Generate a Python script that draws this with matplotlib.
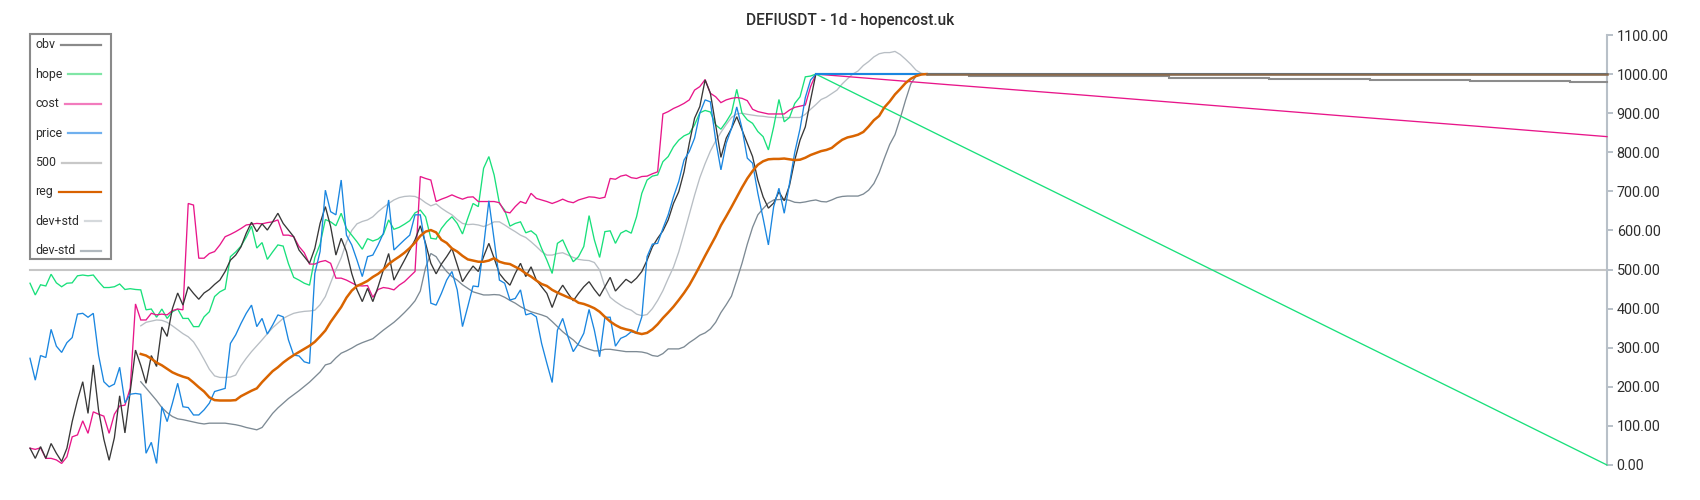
import matplotlib
matplotlib.use("Agg")
import matplotlib.pyplot as plt
from matplotlib.lines import Line2D
from matplotlib.patches import Rectangle
import numpy as np

plt.rcParams['font.family'] = ['Roboto', 'DejaVu Sans']

TITLE = "DEFIUSDT - 1d - hopencost.uk"

# ---------------- data ----------------
hist_days = list(range(150))          # days 0..149 (history)
band_days = list(range(21, 171))      # days 21..170 (regression / bands)

price = [273, 217, 280, 275, 347, 304, 288, 313, 326, 386,
         388, 378, 388, 281, 213, 200, 207, 250, 159, 181,
         183, 181, 30, 58, 4, 149, 111, 158, 209, 149,
         147, 128, 128, 141, 158, 188, 192, 196, 311, 333,
         362, 388, 409, 354, 375, 335, 358, 384, 379, 320,
         281, 279, 264, 260, 490, 546, 703, 648, 640, 729,
         588, 563, 524, 482, 533, 537, 563, 593, 678, 550,
         563, 576, 588, 640, 640, 559, 414, 409, 439, 473,
         495, 448, 354, 405, 458, 456, 559, 676, 576, 473,
         465, 422, 426, 448, 384, 388, 379, 311, 260, 211,
         345, 375, 328, 290, 311, 337, 398, 345, 277, 378,
         378, 304, 324, 330, 341, 337, 379, 533, 565, 567,
         605, 640, 686, 725, 780, 802, 836, 900, 934, 929,
         831, 755, 823, 861, 916, 861, 785, 772, 695, 631,
         563, 661, 708, 644, 720, 800, 860, 940, 985, 1000]

obv = [43, 17, 47, 17, 55, 30, 9, 43, 111, 166,
       213, 132, 256, 140, 66, 12, 70, 177, 82, 188,
       294, 255, 209, 280, 252, 353, 329, 400, 440, 409,
       456, 439, 424, 440, 449, 462, 473, 495, 524, 537,
       558, 593, 621, 597, 617, 601, 622, 644, 618, 601,
       584, 550, 533, 516, 554, 618, 661, 610, 537, 580,
       546, 490, 448, 418, 452, 418, 456, 499, 541, 473,
       499, 524, 550, 576, 612, 567, 516, 489, 514, 533,
       554, 512, 469, 490, 509, 495, 533, 567, 529, 490,
       473, 460, 490, 516, 482, 507, 473, 456, 439, 403,
       439, 460, 439, 420, 439, 456, 469, 449, 432, 456,
       480, 445, 460, 475, 466, 478, 495, 524, 558, 580,
       599, 627, 669, 699, 750, 823, 887, 917, 985, 951,
       870, 787, 836, 861, 891, 857, 823, 789, 729, 686,
       657, 670, 699, 676, 715, 780, 831, 865, 934, 1000]

hope = [465, 435, 461, 458, 488, 466, 456, 465, 466, 484,
        486, 484, 486, 469, 454, 454, 456, 463, 449, 451,
        449, 448, 397, 399, 378, 399, 375, 392, 399, 375,
        375, 354, 354, 379, 392, 431, 443, 450, 533, 545,
        560, 583, 611, 555, 569, 526, 545, 563, 560, 515,
        480, 473, 465, 460, 530, 565, 628, 622, 612, 644,
        605, 588, 571, 552, 579, 573, 578, 590, 627, 603,
        608, 616, 625, 645, 652, 635, 580, 578, 605, 622,
        635, 618, 591, 631, 669, 661, 759, 789, 742, 669,
        652, 611, 618, 622, 594, 599, 588, 554, 524, 490,
        567, 576, 546, 520, 533, 559, 638, 576, 531, 597,
        599, 567, 593, 600, 593, 635, 695, 729, 739, 742,
        776, 789, 814, 831, 842, 848, 870, 901, 907, 903,
        870, 859, 878, 900, 961, 900, 883, 874, 853, 840,
        806, 865, 935, 878, 889, 925, 942, 993, 995, 1000]

cost = [43, 40, 44, 17, 17, 13, 4, 21, 72, 77,
        113, 81, 136, 130, 125, 81, 130, 151, 153, 196,
        412, 371, 371, 388, 384, 386, 384, 395, 399, 397,
        669, 665, 529, 529, 541, 546, 563, 584, 590, 597,
        605, 614, 616, 618, 617, 620, 622, 627, 588, 588,
        584, 559, 543, 514, 514, 520, 523, 516, 478, 478,
        473, 466, 459, 458, 459, 429, 449, 454, 452, 448,
        460, 469, 482, 495, 738, 733, 729, 674, 680, 685,
        691, 685, 680, 685, 686, 674, 674, 674, 674, 671,
        648, 645, 661, 674, 669, 695, 682, 678, 674, 669,
        674, 680, 674, 671, 678, 682, 686, 685, 682, 685,
        733, 731, 739, 742, 735, 733, 738, 739, 745, 750,
        898, 904, 912, 918, 925, 934, 959, 968, 986, 951,
        942, 927, 934, 938, 940, 938, 932, 910, 904, 901,
        898, 898, 898, 898, 908, 915, 918, 921, 968, 1000]

reg = [284, 280, 272, 262, 255, 246, 237, 231, 226, 222,
       211, 199, 188, 173, 166, 165, 165, 165, 166, 176,
       183, 190, 196, 212, 226, 240, 250, 262, 272, 281,
       289, 297, 305, 315, 329, 344, 366, 385, 404, 428,
       446, 458, 464, 471, 481, 489, 500, 514, 524, 533,
       543, 555, 569, 586, 597, 601, 595, 576, 568, 554,
       546, 535, 526, 523, 520, 520, 523, 529, 520, 516,
       514, 507, 500, 490, 482, 472, 463, 458, 448, 441,
       435, 429, 424, 415, 412, 407, 401, 392, 379, 367,
       358, 351, 347, 344, 338, 335, 338, 347, 360, 376,
       390, 405, 422, 440, 460, 484, 509, 535, 560, 585,
       613, 636, 660, 685, 710, 733, 752, 768, 777, 782,
       783, 783, 784, 782, 780, 781, 786, 793, 798, 803,
       806, 811, 822, 832, 838, 841, 845, 852, 866, 882,
       893, 915, 930, 948, 962, 977, 988, 995, 999, 1000]

dev_plus = [356, 365, 368, 371, 370, 365, 356, 346, 336, 328,
            315, 294, 270, 245, 228, 224, 224, 225, 230, 254,
            273, 290, 305, 320, 336, 351, 363, 375, 382, 388,
            391, 393, 394, 396, 410, 431, 466, 500, 530, 570,
            600, 617, 623, 627, 635, 648, 659, 669, 678, 684,
            687, 688, 687, 681, 671, 663, 668, 657, 648, 640,
            628, 618, 615, 616, 614, 610, 615, 622, 622, 614,
            605, 597, 588, 582, 571, 559, 546, 537, 537, 541,
            543, 537, 531, 526, 524, 523, 518, 499, 456, 429,
            418, 409, 401, 396, 386, 382, 385, 400, 421, 446,
            477, 506, 545, 592, 641, 690, 735, 771, 803, 829,
            851, 871, 889, 898, 900, 897, 895, 893, 892, 890,
            889, 889, 889, 889, 889, 889, 897, 910, 922, 935,
            941, 950, 959, 975, 988, 1000, 1008, 1022, 1032, 1044,
            1052, 1055, 1055, 1058, 1050, 1038, 1025, 1010, 1002, 1000]

dev_minus = [213, 197, 181, 165, 147, 134, 124, 118, 116, 113,
             110, 107, 105, 107, 107, 107, 107, 105, 103, 100,
             96, 93, 90, 96, 114, 132, 146, 158, 170, 180,
             190, 201, 212, 225, 238, 256, 260, 274, 286, 292,
             299, 307, 313, 318, 323, 334, 345, 355, 365, 377,
             390, 404, 420, 445, 505, 541, 533, 512, 495, 482,
             473, 461, 452, 443, 439, 435, 435, 436, 435, 429,
             421, 414, 405, 398, 392, 388, 384, 379, 367, 354,
             341, 330, 320, 307, 301, 296, 292, 292, 296, 296,
             294, 292, 290, 290, 290, 289, 286, 280, 278, 285,
             297, 297, 297, 302, 313, 322, 332, 338, 348, 365,
             390, 410, 432, 473, 516, 565, 608, 640, 656, 670,
             678, 679, 680, 677, 672, 671, 673, 676, 678, 674,
             673, 678, 684, 687, 688, 688, 688, 693, 703, 720,
             748, 785, 820, 845, 887, 933, 975, 995, 999, 1000]

# projection (days 149..299)
proj_days = [149, 174, 199, 224, 249, 274, 299]
hope_proj = [1000, 833, 667, 500, 333, 167, 0]
cost_proj = [1000, 973, 947, 920, 893, 867, 840]
obv_step_days = [149, 178, 197, 216, 235, 254, 273, 292, 299]
obv_proj = [1000, 996, 994, 991, 988, 985, 982, 979, 979]
price_flat_days = [149, 299]
price_flat = [1000, 1000]
band_flat_days = [170, 299]
band_flat = [1000, 1000]
level_500 = 500
last_day = 299

yticks = [0, 100, 200, 300, 400, 500, 600, 700, 800, 900, 1000, 1100]

legend_labels = ["obv", "hope", "cost", "price", "500", "reg", "dev+std", "dev-std"]

# ---------------- style ----------------
C_OBV = '#383838'
C_HOPE = '#19e07b'
C_COST = '#e8168a'
C_PRICE = '#1a86e0'
C_500 = '#c6c6c6'
C_REG = '#d96400'
C_DEVP = '#b8bec4'
C_DEVM = '#7d8a94'

legend_colors = ['#8a8a8a', '#80e6a6', '#f27bbd', '#70b0ee', '#c8c8c8',
                 '#d96200', '#d5d9dc', '#b0b8be']

W, H = 1700, 500
fig = plt.figure(figsize=(W / 100, H / 100), dpi=100)
ax = fig.add_axes([30 / W, 35 / H, 1577 / W, 430 / H])
ax.set_xlim(0, last_day)
ax.set_ylim(0, 1100)

lw = 0.95
kw = dict(clip_on=False, solid_joinstyle='miter')
ax.plot([0, last_day], [level_500, level_500], color=C_500, lw=1.5, zorder=1, **kw)

ax.plot(band_days, dev_plus, color=C_DEVP, lw=lw, zorder=2, **kw)
ax.plot(band_flat_days, band_flat, color=C_DEVP, lw=lw, zorder=2, **kw)
ax.plot(band_days, dev_minus, color=C_DEVM, lw=lw, zorder=2, **kw)
ax.plot(band_flat_days, band_flat, color=C_DEVM, lw=lw, zorder=2, **kw)

ax.plot(hist_days, hope, color=C_HOPE, lw=lw, zorder=3, **kw)
ax.plot(proj_days, hope_proj, color=C_HOPE, lw=lw, zorder=3, **kw)
ax.plot(hist_days, cost, color=C_COST, lw=lw, zorder=3, **kw)
ax.plot(proj_days, cost_proj, color=C_COST, lw=lw, zorder=3, **kw)

ax.plot(hist_days, obv, color=C_OBV, lw=lw, zorder=4, **kw)
ax.plot(obv_step_days, obv_proj, color='#8c8c8c', lw=1.5, zorder=4,
        drawstyle='steps-post', **kw)

ax.plot(hist_days, price, color=C_PRICE, lw=lw, zorder=5, **kw)
ax.plot(price_flat_days, price_flat, color=C_PRICE, lw=1.5, zorder=5, **kw)

ax.plot(band_days, reg, color=C_REG, lw=1.8, zorder=6, **kw)
ax.plot(band_flat_days, band_flat, color='#8a6a4c', lw=1.8, zorder=6, **kw)

# axes styling
for s in ['top', 'left', 'bottom']:
    ax.spines[s].set_visible(False)
ax.spines['right'].set_color('#b8c0c8')
ax.spines['right'].set_linewidth(1.5)
ax.set_xticks([])
ax.yaxis.tick_right()
ax.set_yticks(yticks)
ax.set_yticklabels([f'{v:.2f}' for v in yticks])
ax.tick_params(axis='y', direction='out', length=4, width=1.4, color='#b8c0c8',
               pad=3, labelsize=10.4, labelcolor='#2e2e2e')
ax.patch.set_alpha(0)

fig.text(0.5, 1 - 20.5 / H, TITLE, ha='center', va='center', fontsize=11.2,
         fontweight='medium', color='#2e2e2e')

# legend box (manual, matches reference layout)
box = Rectangle((30 / W, 1 - 259.3 / H), 81 / W, 225 / H, transform=fig.transFigure,
                facecolor='white', edgecolor='#8a8a8a', lw=1.5, zorder=5)
fig.add_artist(box)
renderer = fig.canvas.get_renderer()
for k, (lab, col) in enumerate(zip(legend_labels, legend_colors)):
    yc = 45 + k * 29.4
    t = fig.text(35 / W, 1 - yc / H, lab, ha='left', va='center', fontsize=8.9,
                 color='#2e2e2e', zorder=6)
    bb = t.get_window_extent(renderer=renderer)
    x0 = bb.x1 + 6
    fig.add_artist(Line2D([x0 / W, 101 / W], [1 - yc / H, 1 - yc / H],
                          transform=fig.transFigure, color=col, lw=1.6, zorder=6))

fig.savefig('out.png', dpi=100, facecolor='white')
